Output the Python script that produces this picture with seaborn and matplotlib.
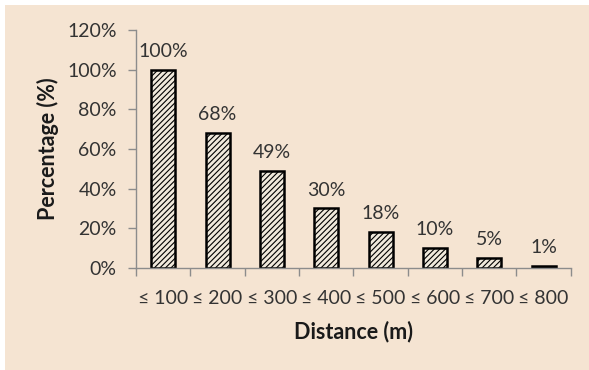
import pandas as pd
import seaborn as sns
import matplotlib.pyplot as plt
from matplotlib.patches import Rectangle
from matplotlib.ticker import FixedLocator, PercentFormatter

distance = ["≤ 100", "≤ 200", "≤ 300", "≤ 400", "≤ 500", "≤ 600", "≤ 700", "≤ 800"]
percent = [100, 68, 49, 30, 18, 10, 5, 1]

bg = "#f5e4d2"
grey = "#8c8c8c"

sns.set_style("ticks")
plt.rcParams["font.family"] = ["Lato", "DejaVu Sans"]
plt.rcParams["hatch.linewidth"] = 0.8

df = pd.DataFrame({"distance": distance, "percent": percent})

fig = plt.figure(figsize=(5.89, 3.70), dpi=100)
fig.patch.set_facecolor("white")
fig.add_artist(Rectangle((5 / 589, 0), 1, 1 - 5 / 370, transform=fig.transFigure,
                         facecolor=bg, edgecolor="none", zorder=-10))
ax = fig.add_axes([0.231, 0.276, 0.738, 0.643])
ax.set_facecolor(bg)
ax.patch.set_alpha(0)

sns.barplot(data=df, x="distance", y="percent", ax=ax, color="#f3ead9",
            width=0.44, edgecolor="black", linewidth=1.8, hatch="//////")

for i, v in enumerate(percent):
    ax.annotate(f"{v}%", (i, v), xytext=(0, 7), textcoords="offset points",
                ha="center", va="bottom", fontsize=14, color="#333333")

ax.set_ylim(0, 120)
ax.set_xlim(-0.5, len(distance) - 0.5)
ax.set_yticks(range(0, 121, 20))
ax.yaxis.set_major_formatter(PercentFormatter(decimals=0))
ax.xaxis.set_minor_locator(FixedLocator([i - 0.5 for i in range(len(distance) + 1)]))
ax.tick_params(axis="x", which="major", length=0, pad=16, labelsize=14, labelcolor="#333333")
ax.tick_params(axis="x", which="minor", length=6, color=grey, width=1)
ax.tick_params(axis="y", length=6, pad=8, color=grey, width=1, labelsize=14, labelcolor="#333333")

for s in ["top", "right"]:
    ax.spines[s].set_visible(False)
for s in ["left", "bottom"]:
    ax.spines[s].set_color(grey)
    ax.spines[s].set_linewidth(1)

ax.set_xlabel("Distance (m)", fontsize=15.5, fontweight="bold", labelpad=10, color="#1a1a1a")
ax.set_ylabel("Percentage (%)", fontsize=15.5, fontweight="bold", labelpad=6, color="#1a1a1a")

fig.savefig("out.png", dpi=100)
